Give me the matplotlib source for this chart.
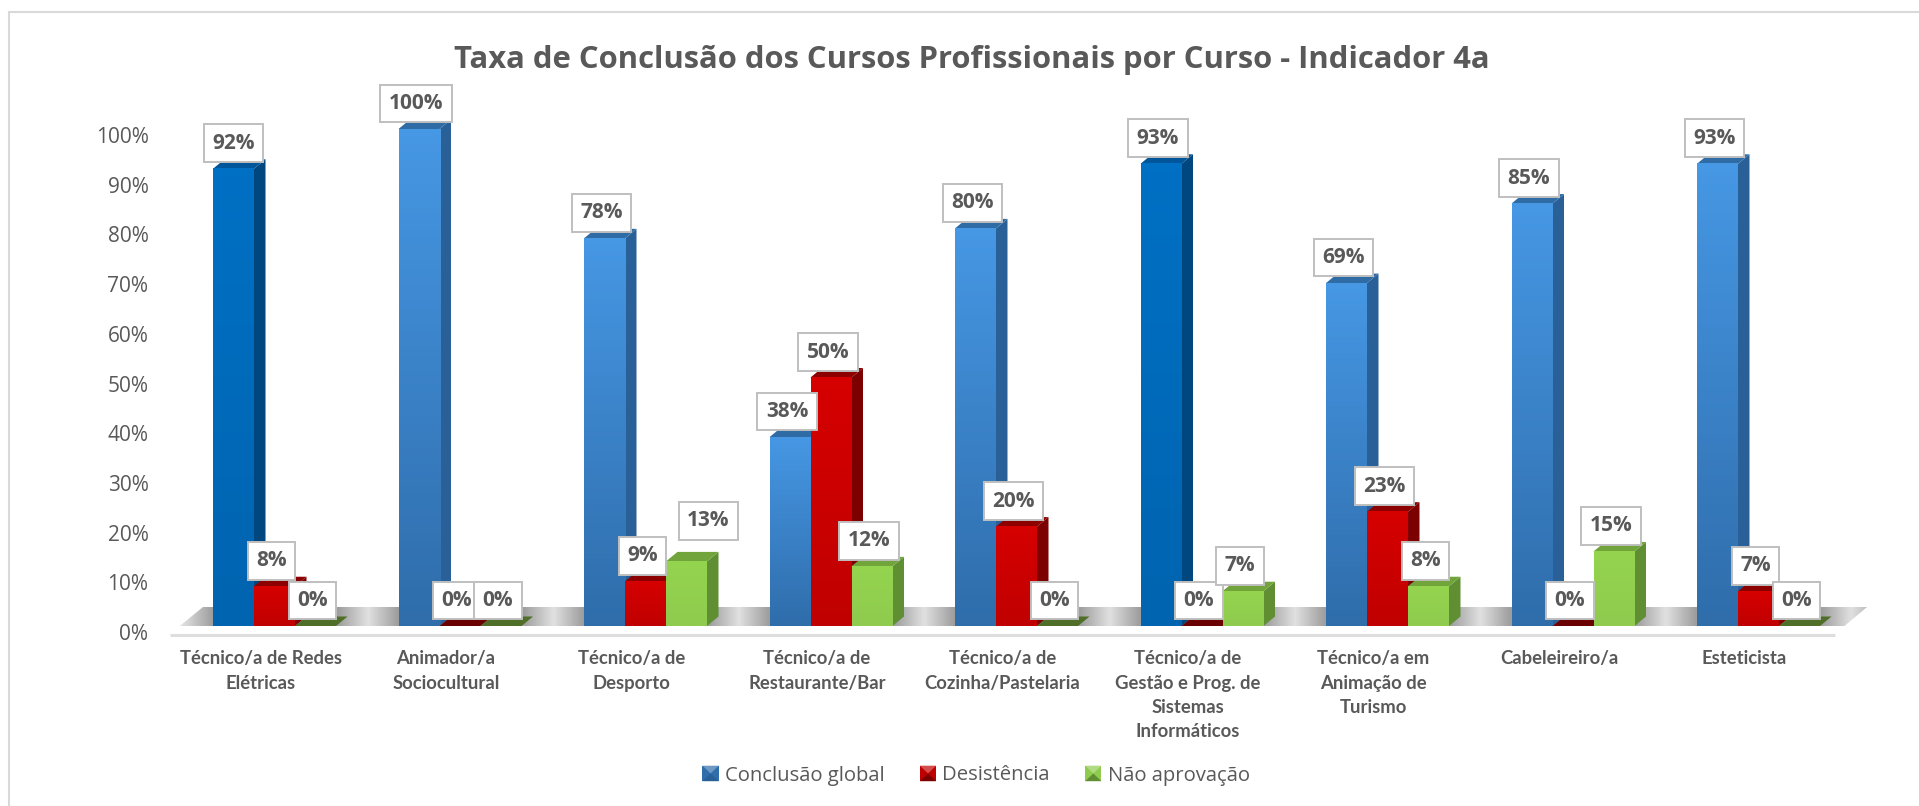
import numpy as np
import matplotlib
matplotlib.use('Agg')
import matplotlib.pyplot as plt
from matplotlib.colors import to_rgb
from matplotlib.legend_handler import HandlerBase
from matplotlib.patches import Polygon, Patch, Rectangle
from matplotlib.transforms import ScaledTranslation

titulo = 'Taxa de Conclusão dos Cursos Profissionais por Curso - Indicador 4a'
cursos = ['Técnico/a de Redes\nElétricas', 'Animador/a\nSociocultural', 'Técnico/a de\nDesporto',
          'Técnico/a de\nRestaurante/Bar', 'Técnico/a de\nCozinha/Pastelaria',
          'Técnico/a de\nGestão e Prog. de\nSistemas\nInformáticos',
          'Técnico/a em\nAnimação de\nTurismo', 'Cabeleireiro/a', 'Esteticista']
conclusao = [92, 100, 78, 38, 80, 93, 69, 85, 93]
desistencia = [8, 0, 9, 50, 20, 0, 23, 0, 7]
nao_aprovacao = [0, 0, 13, 12, 0, 7, 8, 15, 0]
series_nomes = ['Conclusão global', 'Desistência', 'Não aprovação']

W, H = 1919, 806
GREY = '#595959'
FONT = 'Open Sans'

# geometria em pixels da imagem
ax_left, ax_right = 170, 1867
y0_px, y100_px = 626, 129
passo_px = 185.5
larg_px = 41
dx_px, dy_px = 11.5, 9.5

fig = plt.figure(figsize=(W / 100, H / 100), dpi=100)
# moldura: so se ve o lado esquerdo e o de cima
fig.add_artist(Rectangle((9 / W, -20 / H), 2000 / W, (H - 12 + 20) / H, transform=fig.transFigure,
                         fc='white', ec='#d9d9d9', lw=1.5, zorder=-1))
ax = fig.add_axes([ax_left / W, 1 - y0_px / H, (ax_right - ax_left) / W, (y0_px - y100_px) / H])
ax.patch.set_alpha(0)
x_centro0 = 213 + 1.5 * larg_px
for s in ax.spines.values():
    s.set_visible(False)

larg = larg_px / passo_px
dx = dx_px / passo_px
dy = dy_px / ((y0_px - y100_px) / 100)
px_x = 1 / passo_px
px_y = 100 / (y0_px - y100_px)

# chao com sombras
xc = np.arange(len(cursos))
fx = (ax_left - x_centro0) / passo_px
fx2 = (ax_right - x_centro0) / passo_px
chao = Polygon([(fx, -8 * px_y), (fx + 33 * px_x, 19 * px_y), (fx2, 19 * px_y), (fx2 - 32 * px_x, -8 * px_y)],
               closed=True, fc='none', ec='none', clip_on=False)
ax.add_patch(chao)
gx = np.linspace(fx, fx2, 900)
fase = np.abs(((gx + 0.5) % 1) - 0.5)
tom = np.interp(fase, [0, 0.34, 0.5], [0.62, 0.62, 0.88])
img = ax.imshow(tom[None, :], cmap='gray', vmin=0, vmax=1, aspect='auto', zorder=1,
                extent=(fx, fx2, -8 * px_y, 19 * px_y))
img.set_clip_box(None)
img.set_clip_path(chao)
ax.plot([fx, fx2 - 32 * px_x], [-8.5 * px_y, -8.5 * px_y], color='#dedede', lw=2.2,
        clip_on=False, zorder=1.5, solid_capstyle='butt')

azul = ('#4697e4', '#2f6dab', '#2a6098', '#2f6ca6')
azul_esc = ('#0070c4', '#0064b0', '#00477f', '#00569a')
verm = ('#d60000', '#c00000', '#7d0000', '#8c0000')
verd = ('#94d44f', '#8fcb4e', '#5f8e33', '#71a53c')
zero_cor = {1: '#6b0000', 2: '#4f6f28'}
cores_series = [azul, verm, verd]
valores = [conclusao, desistencia, nao_aprovacao]
escuros = [0, 5]

for k, vals in enumerate(valores):
    off = (k - 1) * larg
    z = 3 + k
    for i, v in enumerate(vals):
        c = cores_series[k]
        if k == 0 and i in escuros:
            c = azul_esc
        x0 = xc[i] + off - larg / 2
        x1 = x0 + larg
        topo = [(x0, v), (x0 + dx, v + dy), (x1 + dx, v + dy), (x1, v)]
        if v == 0:
            ax.add_patch(Polygon(topo, closed=True, fc=zero_cor[k], ec='none', zorder=z, clip_on=False))
            continue
        lado = [(x1, 0), (x1 + dx, dy), (x1 + dx, v + dy), (x1, v)]
        ax.add_patch(Polygon(lado, closed=True, fc=c[2], ec='none', zorder=z, clip_on=False))
        ax.add_patch(Polygon(topo, closed=True, fc=c[3], ec='none', zorder=z, clip_on=False))
        ax.bar(xc[i] + off, v, larg, color=c[1], zorder=z)
        grad = np.linspace(0, 1, 64)[:, None]
        rgb0 = np.array(to_rgb(c[0]))
        rgb1 = np.array(to_rgb(c[1]))
        arr = (rgb0 + (rgb1 - rgb0) * grad)[:, None, :]
        ax.imshow(arr, aspect='auto', extent=(x0, x1, 0, v), zorder=z, origin='upper')

ax.set_xlim(fx, fx2)
ax.set_ylim(0, 100)

# etiquetas de dados (deslocamentos em pixels)
desloc = {(2, 2): (22, 43), (0, 0): (0, 28)}
for k, vals in enumerate(valores):
    for i, v in enumerate(vals):
        ox, oy = desloc.get((k, i), (-3, 28))
        ax.annotate(f'{v}%', (xc[i] + (k - 1) * larg, v), xytext=(ox, oy), textcoords='offset pixels',
                    ha='center', va='center_baseline', fontsize=15, fontweight='bold', color=GREY, family=FONT,
                    zorder=10, annotation_clip=False,
                    bbox=dict(boxstyle='square,pad=0.4', fc='white', ec='#bfbfbf', lw=1.4))

# eixos
ax.set_yticks(np.arange(0, 101, 10))
ax.set_yticklabels([f'{t}%' for t in range(0, 101, 10)], fontsize=15, color=GREY, family=FONT)
ax.set_xticks(xc)
ax.set_xticklabels(cursos, fontsize=13.3, color=GREY, fontweight='bold', family='Lato', linespacing=1.52, va='top')
ax.tick_params(axis='both', length=0)
ax.tick_params(axis='y', pad=15.5)
ax.tick_params(axis='x', pad=17.5)
off_y = ScaledTranslation(0, -6 / 100, fig.dpi_scale_trans)
off_x = ScaledTranslation(-14 / 100, 0, fig.dpi_scale_trans)
for t in ax.get_yticklabels():
    t.set_transform(t.get_transform() + off_y)
for t in ax.get_xticklabels():
    t.set_transform(t.get_transform() + off_x)

fig.text(972 / W, 1 - 60 / H, titulo, ha='center', va='center', fontsize=22.3, fontweight='bold', color=GREY, family=FONT)


class HandlerBisel(HandlerBase):
    # quadrado da legenda com bisel: luz em cima, sombra em baixo
    def create_artists(self, legend, orig_handle, xd, yd, width, height, fontsize, trans):
        x0, y0 = -xd, -yd
        x1, y1 = x0 + width, y0 + height
        mx, my = (x0 + x1) / 2, (y0 + y1) / 2
        fc = np.array(to_rgb(orig_handle.get_facecolor()))
        ec = np.array(to_rgb(orig_handle.get_edgecolor()))
        base = Polygon([(x0, y0), (x1, y0), (x1, y1), (x0, y1)], closed=True, fc=fc, ec='none', transform=trans)
        cima = Polygon([(x0, y1), (x1, y1), (mx, my)], closed=True, fc=fc + (1 - fc) * 0.3, ec='none', transform=trans)
        baixo = Polygon([(x0, y0), (x1, y0), (mx, my)], closed=True, fc=ec, ec='none', transform=trans)
        return [base, cima, baixo]


handles = [Patch(fc=cores_series[k][1], ec=cores_series[k][2], lw=0.8) for k in range(3)]
fig.legend(handles, series_nomes, loc='center', bbox_to_anchor=(976 / W, 1 - 775.5 / H), ncol=3, frameon=False,
           prop={'family': FONT, 'size': 14.6}, labelcolor=GREY, handlelength=0.8, handleheight=0.8,
           handletextpad=0.3, columnspacing=1.75, handler_map={Patch: HandlerBisel()})

fig.savefig('out.png', dpi=100)
